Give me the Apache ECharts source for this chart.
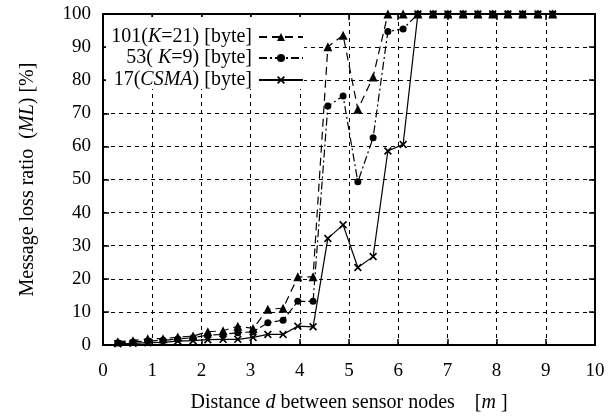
<!DOCTYPE html>
<html><head><meta charset="utf-8">
<script src="https://cdn.jsdelivr.net/npm/echarts@6/dist/echarts.min.js"></script>
<style>html,body{margin:0;padding:0;background:#fff}#c{width:608px;height:416px}</style>
</head><body><div id="c"></div>
<script>
const distances = [0.30,0.61,0.91,1.22,1.52,1.83,2.13,2.44,2.74,3.05,3.35,3.66,3.96,4.27,4.57,4.88,5.18,5.49,5.79,6.10,6.40,6.71,7.01,7.32,7.62,7.92,8.23,8.53,8.84,9.14];
const ml101 = [1.0,1.3,1.9,1.9,2.4,2.7,4.0,4.3,5.7,5.0,10.8,11.1,20.6,20.6,90.1,93.6,71.2,81.0,100,100,100,100,100,100,100,100,100,100,100,100];
const ml53  = [0.7,0.9,1.2,1.4,1.8,2.2,3.0,3.2,3.7,4.0,6.7,7.5,13.2,13.2,72.2,75.2,49.3,62.6,94.7,95.5,100,100,100,100,100,100,100,100,100,100];
const ml17  = [0.4,0.5,0.7,0.8,1.2,1.3,1.6,1.7,1.7,2.3,3.2,3.2,5.7,5.5,32.2,36.3,23.4,26.7,58.6,60.6,100,100,100,100,100,100,100,100,100,100];
const xTicks = [0,1,2,3,4,5,6,7,8,9,10];
const yTicks = [0,10,20,30,40,50,60,70,80,90,100];
const names = ['101(K=21) [byte]','53( K=9) [byte]','17(CSMA) [byte]'];

const FONT = 'Liberation Serif';
const pair = (ys) => ys.map((v,i)=>[distances[i], v]);
const crossPath = 'path://M0,1.5L1.5,0L5,3.5L8.5,0L10,1.5L6.5,5L10,8.5L8.5,10L5,6.5L1.5,10L0,8.5L3.5,5Z';
const rich = {i:{fontStyle:'italic', fontFamily:FONT, fontSize:20, color:'#000'}};

const chart = echarts.init(document.getElementById('c'), null, {renderer:'canvas'});
const gridLine = {show:true, lineStyle:{color:'#000', type:[4,4], width:1}};
const axisCommon = {
  axisLine:{show:true, onZero:false, lineStyle:{color:'#000', width:2}},
  axisTick:{show:true, inside:true, length:6, lineStyle:{color:'#000', width:1.5}},
};
const legendBase = (name, top, fmt) => ({
  data:[name], orient:'horizontal', right:304, top:top, align:'right',
  itemWidth:44, itemHeight:10, itemGap:0, padding:0,
  formatter: fmt,
  textStyle:{fontFamily:FONT, fontSize:20, color:'#000', rich:rich, padding:[0,2,0,0]},
  selectedMode:false
});
chart.setOption({
  backgroundColor:'#fff',
  animation:false,
  grid:{left:103, right:13, top:14, bottom:71, containLabel:false, outerBoundsMode:'none'},
  graphic:[{type:'rect', shape:{x:106, y:17, width:198, height:72}, style:{fill:'#fff'}, z:3, silent:true}],
  legend:[
    legendBase(names[0], 27, () => '101({i|K}=21) [byte]'),
    legendBase(names[1], 48, () => '53( {i|K}=9) [byte]'),
    legendBase(names[2], 70, () => '17({i|CSMA}) [byte]')
  ],
  xAxis:[{
    type:'value', min:0, max:10, interval:1, position:'bottom',
    ...axisCommon,
    splitLine:gridLine,
    axisLabel:{fontFamily:FONT, fontSize:19, color:'#000', margin:17, formatter:(v)=>xTicks.includes(v)?String(v):''},
    name:'Distance {i|d} between sensor nodes    [{i|m} ]', nameLocation:'middle', nameGap:48,
    nameTextStyle:{fontFamily:FONT, fontSize:20, color:'#000', rich:rich}
  },{
    type:'value', min:0, max:10, interval:1, position:'top',
    ...axisCommon, splitLine:{show:false}, axisLabel:{show:false}
  }],
  yAxis:[{
    type:'value', min:0, max:100, interval:10, position:'left',
    ...axisCommon,
    splitLine:gridLine,
    axisLabel:{fontFamily:FONT, fontSize:19, color:'#000', margin:12, formatter:(v)=>yTicks.includes(v)?String(v):''},
    name:'Message loss ratio  ({i|ML}) [%]', nameLocation:'middle', nameGap:65,
    nameTextStyle:{fontFamily:FONT, fontSize:20, color:'#000', rich:rich}
  },{
    type:'value', min:0, max:100, interval:10, position:'right',
    ...axisCommon, splitLine:{show:false}, axisLabel:{show:false}
  }],
  series:[
    {name:names[0], type:'line', data:pair(ml101), symbol:'triangle', symbolSize:9,
     lineStyle:{color:'#000', width:1.2, type:[8,5]}, itemStyle:{color:'#000'}, z:5, clip:false},
    {name:names[1], type:'line', data:pair(ml53), symbol:'circle', symbolSize:7,
     lineStyle:{color:'#000', width:1.2, type:[8,3,2,3]}, itemStyle:{color:'#000'}, z:5, clip:false},
    {name:names[2], type:'line', data:pair(ml17), symbol:crossPath, symbolSize:8,
     lineStyle:{color:'#000', width:1.2, type:'solid'}, itemStyle:{color:'#000'}, z:5, clip:false}
  ]
});
</script></body></html>
